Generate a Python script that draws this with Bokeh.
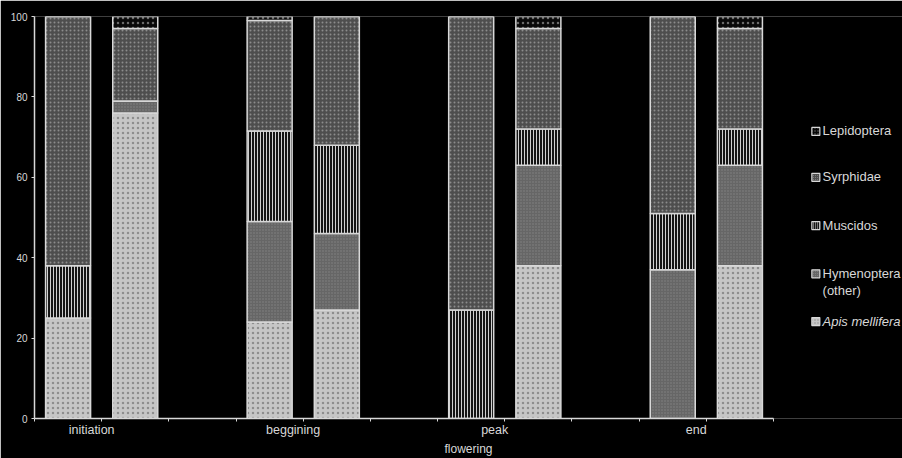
from bokeh.plotting import figure
from bokeh.models import FixedTicker, Range1d, ColumnDataSource
from bokeh.embed import file_html
from bokeh.resources import INLINE
from bokeh.core.properties import value

# ---------------- data ----------------
groups = ["initiation", "beggining", "peak", "end"]
apis        = [25, 76, 24, 27, 0, 38, 0, 38]
hymenoptera = [0, 3, 25, 19, 0, 25, 37, 25]
muscidos    = [13, 0, 22.5, 22, 27, 9, 14, 9]
syrphidae   = [62, 18, 27.5, 32, 73, 25, 49, 25]
lepidoptera = [0, 3, 1, 0, 0, 3, 0, 3]
y_ticks = [0, 20, 40, 60, 80, 100]
legend_labels = ["Lepidoptera", "Syrphidae", "Muscidos", "Hymenoptera\n(other)", "Apis mellifera"]

# ---------------- layout / style ----------------
GROUP_STEP = 3
BAR_W = 0.67
LABEL_SHIFT = -0.15
FONT = "Liberation Sans"
FG = "#d8d8d8"

bar_x = [GROUP_STEP * g + 0.5 + b for g in range(len(groups)) for b in range(2)]
group_centers = [GROUP_STEP * g + 1 for g in range(len(groups))]
n_units = GROUP_STEP * len(groups) - 1

src = ColumnDataSource(dict(x=bar_x, apis=apis, hym=hymenoptera, mus=muscidos,
                            syr=syrphidae, lep=lepidoptera))

p = figure(width=902, height=458, output_backend="svg", toolbar_location=None,
           x_range=Range1d(0, 12.92), y_range=Range1d(0, 100),
           min_border_left=34, min_border_right=0, min_border_top=16, min_border_bottom=40,
           background_fill_color="black", border_fill_color="black")
p.outline_line_color = None
p.grid.visible = False

# styles per stack layer (bottom -> top)
fills   = ["#c6c6c6", "#666666", "#151515", "#4e4e4e", "#080808"]
hatches = ["dot", "dot", "vertical_line", "dot", "dot"]
hcolors = ["#8e8e8e", "#858585", "#d0d0d0", "#8c8c8c", "#6a6a6a"]
hscales = [5, 3, 3, 4, 5]
hweights = [1, 1, 1, 1, 1]

p.vbar_stack(["apis", "hym", "mus", "syr", "lep"], x="x", width=BAR_W, source=src,
             fill_color=fills, hatch_pattern=hatches, hatch_color=hcolors,
             hatch_scale=hscales, hatch_weight=hweights,
             line_color=FG, line_width=1.5)

# x axis: labels as major ticks (invisible marks), integer ticks as minor ticks
label_pos = [c + LABEL_SHIFT for c in group_centers]
ax = p.xaxis[0]
ax.ticker = FixedTicker(ticks=label_pos, minor_ticks=list(range(0, n_units + 1)))
ax.major_label_overrides = {lp: g for lp, g in zip(label_pos, groups)}
ax.bounds = (0, n_units)
ax.axis_line_color = FG
ax.axis_line_width = 1.5
ax.major_tick_line_color = None
ax.major_tick_out = 3
ax.major_tick_in = 0
ax.minor_tick_line_color = FG
ax.minor_tick_out = 3
ax.minor_tick_in = 0
ax.major_label_standoff = 1
ax.major_label_text_font = FONT
ax.major_label_text_font_size = "12.5px"
ax.major_label_text_color = FG
ax.axis_label = "flowering"
ax.axis_label_text_font = FONT
ax.axis_label_text_font_size = "12px"
ax.axis_label_text_color = FG
ax.axis_label_text_font_style = "normal"
ax.axis_label_standoff = 2

ay = p.yaxis[0]
ay.ticker = FixedTicker(ticks=y_ticks)
ay.bounds = (0, 100)
ay.axis_line_color = FG
ay.axis_line_width = 1.5
ay.major_tick_line_color = FG
ay.major_tick_out = 3
ay.major_tick_in = 0
ay.minor_tick_line_color = None
ay.major_label_standoff = 4
ay.major_label_text_font = FONT
ay.major_label_text_font_size = "10px"
ay.major_label_text_color = FG

# legend (manual, top -> bottom)
leg_x = 11.63
leg_tx = 11.73
leg_y = [71.4, 60, 48, 36, 24.1]
leg_src = ColumnDataSource(dict(
    x=[leg_x] * 5, y=leg_y,
    fill=list(reversed(fills)), hatch=list(reversed(hatches)),
    hcol=list(reversed(hcolors)), hsc=[3, 2, 2, 2, 3]))
p.rect(x="x", y="y", width=8, height=8, width_units="screen", height_units="screen",
       source=leg_src, fill_color="fill", hatch_pattern="hatch", hatch_color="hcol",
       hatch_scale="hsc", line_color=FG, line_width=1.2)

for i, lab in enumerate(legend_labels):
    p.text(x=[leg_tx], y=[leg_y[i]], text=[lab], text_font=value(FONT),
           text_font_size="13px", text_color=FG, text_baseline="top", y_offset=-8,
           text_line_height=1.15,
           text_font_style="italic" if lab.startswith("Apis") else "normal")

open("out.html", "w").write(file_html(p, INLINE))
